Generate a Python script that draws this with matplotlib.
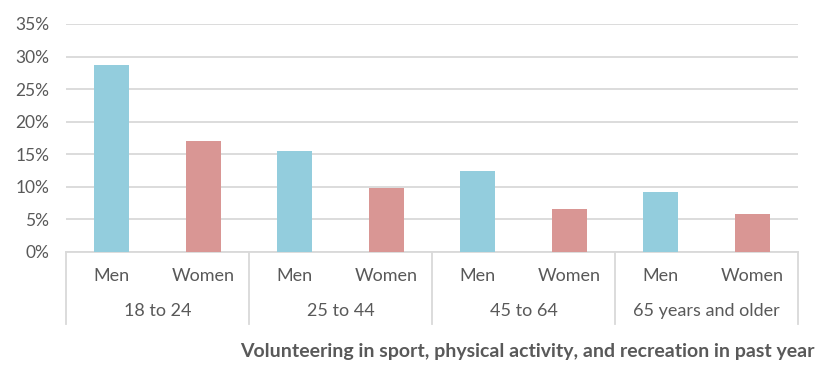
import numpy as np
import matplotlib.pyplot as plt
from matplotlib.ticker import PercentFormatter

plt.rcParams['font.family'] = ['Lato', 'DejaVu Sans']

groups = ["18 to 24", "25 to 44", "45 to 64", "65 years and older"]
sexes = ["Men", "Women"]
men = [28.7, 15.5, 12.4, 9.2]
women = [17.1, 9.8, 6.6, 5.8]

blue = "#93CDDD"
pink = "#D99694"
grid = "#D9D9D9"
txt = "#595959"

vals = []
cols = []
for m, w in zip(men, women):
    vals += [m, w]
    cols += [blue, pink]
x = np.arange(len(vals))

fig = plt.figure(figsize=(8.2, 3.81), dpi=100)
ax = fig.add_axes([66/820, 1-252/381, 732/820, 228/381])
ax.bar(x, vals, width=0.38, color=cols, zorder=3)
ax.set_xlim(-0.5, len(vals)-0.5)
ax.set_ylim(0, 35)
ax.set_yticks(np.arange(0, 36, 5))
ax.yaxis.set_major_formatter(PercentFormatter(decimals=0))
ax.grid(axis='y', color=grid, linewidth=1.3, zorder=0)
for s in ['top', 'right', 'left']:
    ax.spines[s].set_visible(False)
ax.spines['bottom'].set_color(grid)
ax.spines['bottom'].set_linewidth(1.3)
ax.tick_params(axis='y', length=0, labelsize=12.5, labelcolor=txt, pad=12)
ax.set_xticks([])

trans = ax.get_xaxis_transform()
for i in range(len(vals)):
    ax.text(i, -0.105, sexes[i % 2], transform=trans, ha='center', va='center',
            fontsize=13, color=txt)
for g, name in enumerate(groups):
    ax.text(2*g + 0.5, -0.259, name, transform=trans, ha='center', va='center',
            fontsize=13, color=txt)
for b in np.arange(-0.5, len(vals), 2):
    ax.plot([b, b], [0, -0.316], transform=trans, color=grid, linewidth=1.3,
            clip_on=False)

fig.text(815/820, 1-352/381, "Volunteering in sport, physical activity, and recreation in past year",
         ha='right', va='center', fontsize=14, fontweight='bold', color=txt)

fig.savefig("out.png", dpi=100)
